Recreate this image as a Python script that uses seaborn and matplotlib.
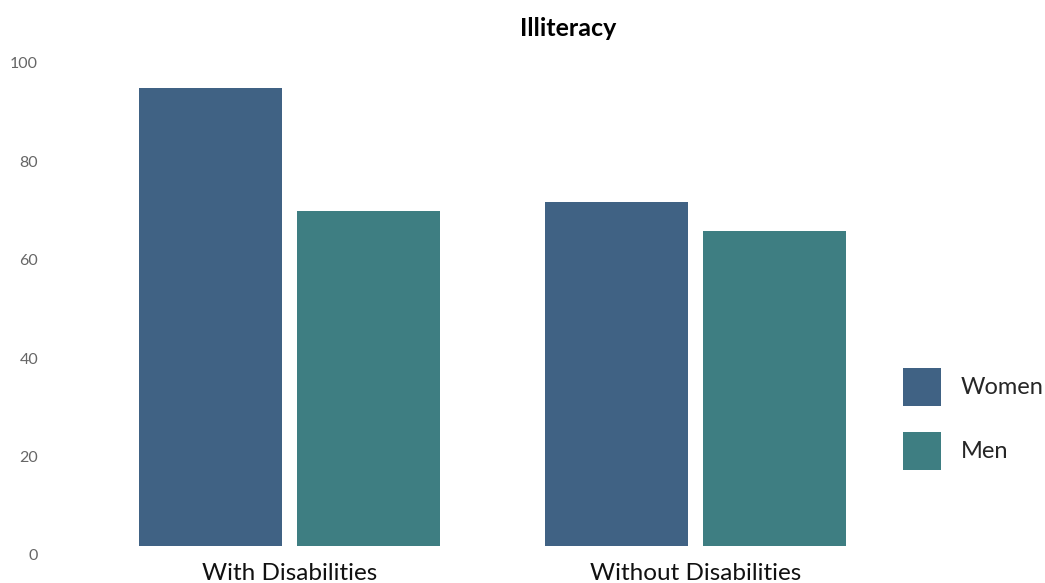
import matplotlib
matplotlib.use("Agg")
import matplotlib.pyplot as plt
from matplotlib.transforms import ScaledTranslation
import seaborn as sns
import pandas as pd

categories = ["With Disabilities", "Without Disabilities"]
groups = ["Women", "Men"]
women = [93, 70]
men = [68, 64]
yticks = [0, 20, 40, 60, 80, 100]
title = "Illiteracy"
colors = ["#406284", "#3e7e82"]

df = pd.DataFrame({
    "category": categories * 2,
    "group": [groups[0]] * 2 + [groups[1]] * 2,
    "value": women + men,
})

sns.set_theme(style="white")
plt.rcParams["font.family"] = ["Lato", "DejaVu Sans"]

W, H = 1045, 583
fig = plt.figure(figsize=(W / 100, H / 100), dpi=100)
ax = fig.add_axes([45 / W, (H - 546) / H, (880 - 45) / W, (546 - 54) / H])

sns.barplot(data=df, x="category", y="value", hue="group", order=categories,
            hue_order=groups, palette=colors, width=0.78, gap=0.1,
            saturation=1, edgecolor="none", linewidth=0, ax=ax)

ax.set_xlim((45 - 289.5) / 406, (880 - 289.5) / 406)
ax.set_ylim(0, 100)
ax.set_yticks(yticks)
ax.set_yticklabels([str(t) for t in yticks])
ax.set_xlabel("")
ax.set_ylabel("")
sns.despine(ax=ax, left=True, bottom=True)
ax.tick_params(axis="y", length=0, pad=5, labelsize=11.5, labelcolor="#666666")
ax.tick_params(axis="x", length=0, pad=12, labelsize=17.5, labelcolor="#111111")
off = ScaledTranslation(0, -9 / 100, fig.dpi_scale_trans)
for tk in ax.yaxis.get_major_ticks():
    tk.label1.set_transform(tk.label1.get_transform() + off)
ax.grid(False)

handles, labels = ax.get_legend_handles_labels()
ax.legend(handles, labels, loc="center left", bbox_to_anchor=(903 / W, (H - 419) / H),
          bbox_transform=fig.transFigure, frameon=False, fontsize=17,
          handlelength=1.61, handleheight=2.1, handletextpad=0.85,
          labelspacing=1.1, borderpad=0, borderaxespad=0)

fig.text(568 / W, 1 - 28 / H, title, ha="center", va="center",
         fontsize=18, fontweight="bold", color="#000000")

fig.savefig("out.png", dpi=100)
